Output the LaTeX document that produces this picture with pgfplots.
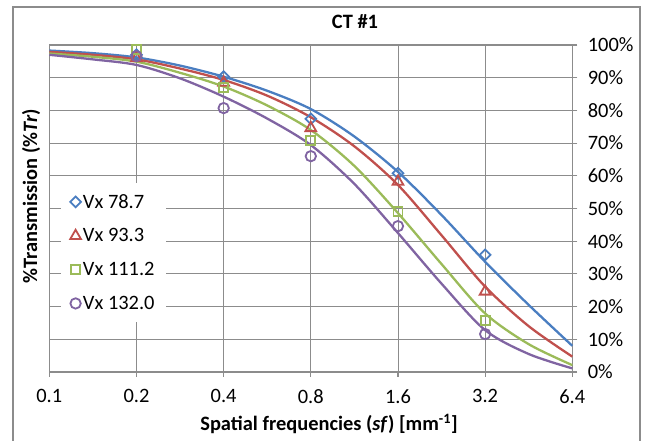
\documentclass[border=0pt]{standalone}
\usepackage{pgfplots}
\pgfplotsset{compat=1.18}
\usepackage{fontspec}
\setmainfont{Carlito}
\definecolor{cblue}{RGB}{74,126,193}
\definecolor{cred}{RGB}{192,80,77}
\definecolor{cgreen}{RGB}{155,187,89}
\definecolor{cpurple}{RGB}{128,100,162}
\definecolor{cgrid}{RGB}{140,140,140}
\newcommand{\cfont}{\fontsize{20.5}{24}\selectfont}
\begin{document}
\begin{tikzpicture}
\begin{axis}[
  width=523bp, height=327bp, scale only axis,
  xmode=log, log basis x=2, xmin=0.1, xmax=6.4,
  xtick={0.1,0.2,0.4,0.8,1.6,3.2,6.4},
  xticklabels={0.1,0.2,0.4,0.8,1.6,3.2,6.4},
  ymin=0, ymax=100, ytick={0,10,...,100},
  yticklabel={\pgfmathprintnumber{\tick}\%},
  /pgf/number format/assume math mode=true,
  yticklabel pos=right, ytick pos=right, xtick pos=bottom,
  tick align=outside, major tick length=5bp,
  major tick style={cgrid, line width=1.1bp},
  tick label style={font=\cfont, black},
  yticklabel style={anchor=west, xshift=7bp},
  xticklabel style={yshift=-9bp},
  grid=major, major grid style={cgrid, line width=0.9bp},
  axis line style={cgrid, line width=1.5bp},
  legend style={at={(rel axis cs:0.0224,0.578)}, anchor=north west, draw=none, fill=white,
    font=\cfont, row sep=15bp, inner xsep=9bp, inner ysep=9bp},
  legend cell align=left,
  clip=false,
]
\addplot[cblue, line width=2.3bp, smooth, forget plot] coordinates {
(0.1,98.3)(0.1414,97.5)(0.2,96.2)(0.2828,93.7)(0.4,90.3)(0.5657,86.0)(0.8,80.4)(1.1314,72.0)(1.6,61.2)(2.2627,48.0)(3.2,33.7)(4.5255,20.5)(6.4,8.0)};
\addplot[cred, line width=2.3bp, smooth, forget plot] coordinates {
(0.1,97.9)(0.1414,97.0)(0.2,95.6)(0.2828,92.8)(0.4,89.3)(0.5657,84.5)(0.8,77.9)(1.1314,69.0)(1.6,57.2)(2.2627,41.8)(3.2,26.1)(4.5255,14.0)(6.4,4.7)};
\addplot[cgreen, line width=2.3bp, smooth, forget plot] coordinates {
(0.1,97.4)(0.1414,96.4)(0.2,94.9)(0.2828,91.5)(0.4,87.3)(0.5657,81.5)(0.8,74.0)(1.1314,63.0)(1.6,48.6)(2.2627,33.0)(3.2,17.9)(4.5255,8.5)(6.4,2.1)};
\addplot[cpurple, line width=2.3bp, smooth, forget plot] coordinates {
(0.1,97.0)(0.1414,95.6)(0.2,93.9)(0.2828,89.8)(0.4,84.2)(0.5657,77.5)(0.8,69.4)(1.1314,57.5)(1.6,42.5)(2.2627,27.0)(3.2,12.8)(4.5255,5.5)(6.4,1.1)};

\addplot[cblue, only marks, mark=square, mark size=3.8bp, mark options={rotate=45, line width=1.8bp}] coordinates {
(0.2,97.0)(0.4,90.3)(0.8,77.4)(1.6,60.8)(3.2,35.8)};
\addlegendentry{Vx 78.7}
\addplot[cred, only marks, mark=triangle, mark size=6.2bp, mark options={line width=1.8bp}] coordinates {
(0.2,96.0)(0.4,88.5)(0.8,74.6)(1.6,58.2)(3.2,24.6)};
\addlegendentry{Vx 93.3}
\addplot[cgreen, only marks, mark=square, mark size=4.5bp, mark options={line width=1.8bp}] coordinates {
(0.2,98.7)(0.4,87.0)(0.8,70.9)(1.6,49.0)(3.2,15.7)};
\addlegendentry{Vx 111.2}
\addplot[cpurple, only marks, mark=o, mark size=5.2bp, mark options={line width=1.8bp}] coordinates {
(0.2,96.6)(0.4,80.7)(0.8,66.0)(1.6,44.6)(3.2,11.6)};
\addlegendentry{Vx 132.0}

\node[font=\cfont\bfseries] at (rel axis cs:0.5845,1.0703) {CT \#1};
\node[font=\cfont\bfseries] at (rel axis cs:0.5348,-0.159) {Spatial frequencies (\textit{sf}) [mm\textsuperscript{-1}]};
\node[font=\cfont\bfseries, rotate=90] at (rel axis cs:-0.035,0.538) {\%Transmission (\%\textit{Tr})};
\coordinate (bl) at (rel axis cs:-0.0943,-0.2110);
\coordinate (tr) at (rel axis cs:1.1562,1.1376);
\coordinate (fl) at (rel axis cs:-0.0694,-0.35);
\coordinate (ftl) at (rel axis cs:-0.0694,1.1162);
\coordinate (ftr) at (rel axis cs:1.1295,1.1162);
\coordinate (fr) at (rel axis cs:1.1295,-0.35);
\end{axis}
\pgfresetboundingbox
\path[use as bounding box] (bl) rectangle (tr);
\draw[cgrid, line width=1.1bp] (fl) -- (ftl) -- (ftr) -- (fr);
\end{tikzpicture}
\end{document}
